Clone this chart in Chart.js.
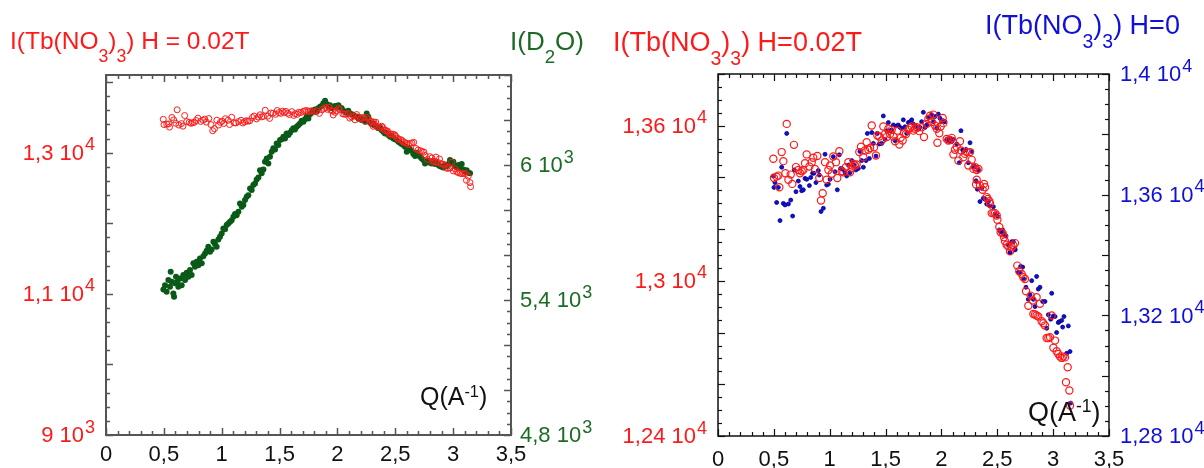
<!DOCTYPE html>
<html>
<head>
<meta charset="utf-8">
<title>SANS Tb(NO3)3</title>
<script src="https://cdn.jsdelivr.net/npm/chart.js@4.4.1/dist/chart.umd.min.js"></script>
<style>
  html, body { margin: 0; padding: 0; background: #fff; }
  #page { position: relative; width: 1204px; height: 468px; overflow: hidden; font-family: "Liberation Sans", Arial, sans-serif; }
  canvas { position: absolute; top: 0; }
  #leftChart { left: 0; }
  #rightChart { left: 600px; }
  .lbl { position: absolute; white-space: nowrap; line-height: 1; }
  .lbl sub { font-size: 0.72em; vertical-align: -0.72em; line-height: 0; }
  .lbl sup { font-size: 0.65em; vertical-align: 0.5em; line-height: 0; }
</style>
</head>
<body>
<div id="page">
  <canvas id="leftChart" width="600" height="468"></canvas>
  <canvas id="rightChart" width="604" height="468"></canvas>

  <div class="lbl" style="left:10px; top:29px; font-size:24.5px; color:#ff1a1a">I(Tb(NO<sub>3</sub>)<sub>3</sub>) H = 0.02T</div>
  <div class="lbl" style="left:510px; top:28px; font-size:26px; color:#1b6b25">I(D<sub>2</sub>O)</div>
  <div class="lbl" style="left:420px; top:384px; font-size:25px; color:#111">Q(A<sup>-1</sup>)</div>

  <div class="lbl" style="left:613px; top:29px; font-size:27px; color:#ff1a1a">I(Tb(NO<sub>3</sub>)<sub>3</sub>) H=0.02T</div>
  <div class="lbl" style="left:985px; top:12px; font-size:27px; color:#1010d6">I(Tb(NO<sub>3</sub>)<sub>3</sub>) H=0</div>
  <div class="lbl" style="left:1028px; top:399px; font-size:27px; color:#111">Q(A<sup>-1</sup>)</div>
</div>

<script>
// Tb(NO3)3, H = 0.02T (red open circles, same data in both panels)
const tbFieldQ = [
  0.495, 0.501, 0.525, 0.540, 0.549, 0.570, 0.585, 0.603, 0.615, 0.630, 0.651, 0.665, 0.680, 0.698, 0.719,
  0.734, 0.749, 0.764, 0.779, 0.794, 0.818, 0.839, 0.853, 0.868, 0.889, 0.907, 0.922, 0.937, 0.958, 0.973,
  0.988, 1.003, 1.018, 1.032, 1.056, 1.068, 1.086, 1.107, 1.122, 1.146, 1.167, 1.182, 1.197, 1.212, 1.226,
  1.241, 1.265, 1.280, 1.301, 1.316, 1.331, 1.346, 1.361, 1.376, 1.397, 1.414, 1.426, 1.444, 1.465, 1.480,
  1.495, 1.510, 1.525, 1.540, 1.555, 1.570, 1.585, 1.605, 1.623, 1.635, 1.653, 1.665, 1.683, 1.704, 1.719,
  1.734, 1.749, 1.764, 1.778, 1.802, 1.823, 1.844, 1.868, 1.883, 1.898, 1.913, 1.928, 1.943, 1.958, 1.964,
  1.981, 1.993, 2.011, 2.017, 2.047, 2.062, 2.077, 2.092, 2.107, 2.122, 2.137, 2.152, 2.166, 2.175, 2.196,
  2.211, 2.226, 2.241, 2.256, 2.271, 2.286, 2.301, 2.316, 2.331, 2.316, 2.310, 2.345, 2.369, 2.381, 2.390,
  2.405, 2.414, 2.429, 2.435, 2.450, 2.465, 2.480, 2.495, 2.501, 2.518, 2.530, 2.548, 2.560, 2.569, 2.584,
  2.599, 2.629, 2.644, 2.659, 2.614, 2.679, 2.697, 2.718, 2.733, 2.748, 2.757, 2.799, 2.778, 2.817, 2.852,
  2.882, 2.823, 2.838, 2.852, 2.867, 2.897, 2.912, 2.927, 2.987, 2.942, 2.957, 2.972, 3.017, 3.002, 3.031,
  3.046, 3.061, 3.076, 3.091, 3.106, 3.130, 3.115, 3.145, 3.151
];
const tbFieldI = [
  13472, 13398, 13403, 13407, 13362, 13498, 13463, 13416, 13607, 13391, 13411, 13375, 13526, 13440, 13429,
  13416, 13424, 13429, 13455, 13489, 13442, 13459, 13476, 13433, 13483, 13398, 13311, 13339, 13459, 13391,
  13429, 13446, 13414, 13481, 13459, 13398, 13501, 13424, 13420, 13440, 13459, 13420, 13437, 13452, 13446,
  13450, 13498, 13519, 13478, 13504, 13536, 13507, 13514, 13601, 13517, 13485, 13562, 13558, 13543, 13597,
  13568, 13556, 13588, 13568, 13584, 13558, 13540, 13581, 13527, 13553, 13543, 13571, 13568, 13584, 13592,
  13597, 13581, 13588, 13594, 13579, 13594, 13556, 13607, 13626, 13639, 13614, 13643, 13601, 13588, 13534,
  13571, 13597, 13630, 13610, 13549, 13543, 13545, 13553, 13489, 13507, 13519, 13465, 13540, 13504, 13478,
  13491, 13498, 13446, 13498, 13468, 13433, 13440, 13429, 13433, 13391, 13373, 13369, 13352, 13375, 13362,
  13324, 13317, 13308, 13298, 13262, 13262, 13262, 13253, 13236, 13208, 13188, 13184, 13169, 13153, 13140,
  13133, 13130, 13137, 13146, 13114, 13059, 13037, 13027, 13014, 13007, 12960, 12943, 12904, 12924, 12937,
  12911, 12872, 12870, 12866, 12862, 12844, 12836, 12827, 12866, 12779, 12779, 12782, 12769, 12741, 12728,
  12717, 12707, 12702, 12707, 12704, 12666, 12608, 12576, 12518
];

// D2O (dark green dots, left panel right axis)
const d2oQ = [
  0.496, 0.510, 0.524, 0.539, 0.553, 0.559, 0.568, 0.582, 0.588, 0.596, 0.605, 0.617, 0.625, 0.640, 0.654,
  0.668, 0.683, 0.697, 0.712, 0.726, 0.740, 0.755, 0.769, 0.784, 0.798, 0.812, 0.827, 0.841, 0.856, 0.870,
  0.884, 0.899, 0.913, 0.928, 0.942, 0.956, 0.971, 0.985, 1.000, 1.014, 1.029, 1.043, 1.057, 1.072, 1.086,
  1.101, 1.115, 1.129, 1.144, 1.158, 1.173, 1.187, 1.201, 1.216, 1.230, 1.245, 1.259, 1.273, 1.288, 1.302,
  1.317, 1.331, 1.345, 1.360, 1.374, 1.389, 1.403, 1.417, 1.432, 1.446, 1.461, 1.475, 1.489, 1.504, 1.518,
  1.533, 1.547, 1.561, 1.576, 1.590, 1.605, 1.619, 1.633, 1.648, 1.662, 1.677, 1.691, 1.706, 1.720, 1.734,
  1.749, 1.763, 1.778, 1.792, 1.806, 1.821, 1.835, 1.850, 1.864, 1.878, 1.893, 1.907, 1.922, 1.936, 1.950,
  1.965, 1.979, 1.994, 2.008, 2.022, 2.037, 2.051, 2.066, 2.080, 2.094, 2.109, 2.123, 2.138, 2.152, 2.166,
  2.181, 2.195, 2.210, 2.224, 2.239, 2.253, 2.267, 2.282, 2.296, 2.311, 2.325, 2.339, 2.354, 2.368, 2.383,
  2.397, 2.411, 2.426, 2.440, 2.455, 2.469, 2.483, 2.498, 2.512, 2.527, 2.541, 2.555, 2.570, 2.584, 2.599,
  2.613, 2.627, 2.642, 2.656, 2.671, 2.685, 2.699, 2.714, 2.728, 2.743, 2.757, 2.771, 2.786, 2.800, 2.815,
  2.829, 2.843, 2.858, 2.872, 2.887, 2.901, 2.915, 2.930, 2.944, 2.959, 2.973, 2.987, 3.002, 3.016, 3.031,
  3.045, 3.060, 3.074, 3.088, 3.103, 3.117, 3.132, 3.146
];
const d2oI = [
  5447, 5466, 5437, 5489, 5459, 5526, 5481, 5429, 5415, 5474, 5503, 5481, 5459, 5496, 5466,
  5511, 5489, 5521, 5503, 5533, 5511, 5563, 5548, 5570, 5555, 5585, 5563, 5595, 5607, 5619,
  5637, 5614, 5625, 5659, 5649, 5637, 5669, 5681, 5696, 5718, 5714, 5733, 5740, 5748, 5755,
  5770, 5782, 5777, 5792, 5829, 5814, 5822, 5844, 5859, 5866, 5896, 5889, 5911, 5918, 5936,
  5945, 5977, 5963, 5980, 6014, 6029, 6007, 6037, 6059, 6074, 6069, 6096, 6089, 6111, 6114,
  6126, 6118, 6140, 6133, 6143, 6155, 6163, 6158, 6170, 6177, 6185, 6197, 6192, 6203, 6214,
  6207, 6226, 6232, 6241, 6247, 6237, 6252, 6259, 6262, 6274, 6286, 6271, 6262, 6266, 6252,
  6256, 6262, 6259, 6266, 6256, 6252, 6241, 6237, 6232, 6241, 6229, 6226, 6222, 6217, 6214,
  6207, 6212, 6200, 6203, 6192, 6229, 6214, 6188, 6182, 6185, 6177, 6170, 6163, 6167, 6155,
  6148, 6140, 6143, 6133, 6126, 6129, 6118, 6114, 6111, 6103, 6099, 6093, 6089, 6081, 6059,
  6078, 6069, 6063, 6049, 6040, 6054, 6044, 6037, 6029, 6022, 6007, 6014, 6019, 6010, 6007,
  6019, 6004, 6010, 6000, 5995, 5992, 5989, 6000, 5995, 6004, 6022, 6007, 6014, 5995, 5989,
  6000, 5985, 6004, 5980, 5970, 5977, 5966, 5963
];

// Tb(NO3)3, H = 0 (blue dots, right panel right axis)
const tbZeroQ = [
  0.495, 0.510, 0.501, 0.525, 0.540, 0.555, 0.570, 0.585, 0.600, 0.615, 0.630, 0.651, 0.668, 0.683, 0.698,
  0.719, 0.734, 0.749, 0.764, 0.779, 0.794, 0.818, 0.830, 0.847, 0.859, 0.877, 0.898, 0.907, 0.922, 0.943,
  0.958, 0.973, 0.988, 1.003, 1.032, 1.047, 1.068, 1.086, 1.098, 1.116, 1.137, 1.152, 1.167, 1.182, 1.197,
  1.217, 1.235, 1.256, 1.271, 1.286, 1.301, 1.325, 1.337, 1.355, 1.376, 1.391, 1.414, 1.426, 1.444, 1.465,
  1.480, 1.495, 1.510, 1.525, 1.540, 1.555, 1.570, 1.585, 1.599, 1.614, 1.629, 1.644, 1.659, 1.674, 1.689,
  1.704, 1.719, 1.734, 1.749, 1.764, 1.778, 1.793, 1.808, 1.823, 1.838, 1.853, 1.868, 1.883, 1.898, 1.913,
  1.928, 1.943, 1.958, 1.972, 1.987, 2.002, 2.017, 2.032, 2.047, 2.062, 2.077, 2.092, 2.107, 2.137, 2.160,
  2.175, 2.190, 2.202, 2.220, 2.241, 2.256, 2.271, 2.286, 2.301, 2.331, 2.310, 2.322, 2.345, 2.360, 2.375,
  2.390, 2.405, 2.420, 2.435, 2.465, 2.480, 2.501, 2.518, 2.530, 2.548, 2.560, 2.578, 2.599, 2.614, 2.629,
  2.644, 2.659, 2.614, 2.659, 2.709, 2.727, 2.688, 2.703, 2.739, 2.757, 2.778, 2.793, 2.808, 2.823, 2.838,
  2.852, 2.867, 2.882, 2.906, 2.927, 2.942, 2.957, 2.978, 2.987, 3.002, 3.017, 3.031, 3.046, 3.055, 3.076,
  3.085, 3.097, 3.121, 3.136, 3.151, 3.157
];
const tbZeroI = [
  13662, 13640, 13624, 13574, 13624, 13514, 13691, 13571, 13566, 13803, 13569, 13582, 13529, 13682, 13610,
  13645, 13627, 13613, 13616, 13654, 13651, 13630, 13657, 13671, 13671, 13640, 13680, 13665, 13544, 13555,
  13734, 13632, 13635, 13651, 13726, 13676, 13616, 13732, 13687, 13684, 13673, 13662, 13698, 13673, 13713,
  13698, 13682, 13687, 13743, 13713, 13691, 13713, 13803, 13720, 13806, 13770, 13728, 13803, 13768, 13770,
  13861, 13783, 13812, 13839, 13812, 13814, 13831, 13779, 13828, 13831, 13823, 13820, 13848, 13825, 13803,
  13839, 13842, 13848, 13834, 13828, 13825, 13817, 13823, 13842, 13873, 13823, 13831, 13856, 13859, 13864,
  13842, 13859, 13820, 13867, 13853, 13842, 13845, 13842, 13783, 13779, 13787, 13776, 13783, 13768, 13706,
  13812, 13748, 13746, 13750, 13706, 13772, 13743, 13693, 13693, 13682, 13646, 13618, 13577, 13621, 13588,
  13585, 13569, 13577, 13562, 13560, 13536, 13529, 13483, 13477, 13483, 13470, 13463, 13433, 13408, 13444,
  13444, 13419, 13408, 13417, 13362, 13360, 13342, 13340, 13320, 13293, 13253, 13268, 13315, 13253, 13229,
  13329, 13287, 13293, 13246, 13246, 13157, 13202, 13187, 13273, 13198, 13196, 13143, 13176, 13179, 13183,
  13161, 13196, 13074, 13165, 13080, 12909
];

// axis tick labels
const qTickValues = [0, 0.5, 1, 1.5, 2, 2.5, 3, 3.5];
const qTickLabels = ['0', '0,5', '1', '1,5', '2', '2,5', '3', '3,5'];
const tbLeftTickValues = [9000, 11000, 13000];
const tbLeftTickLabels = ['9 10^3', '1,1 10^4', '1,3 10^4'];
const d2oTickValues = [4800, 5400, 6000];
const d2oTickLabels = ['4,8 10^3', '5,4 10^3', '6 10^3'];
const tbRightTickValues = [12400, 13000, 13600];
const tbRightTickLabels = ['1,24 10^4', '1,3 10^4', '1,36 10^4'];
const tbZeroTickValues = [12800, 13200, 13600, 14000];
const tbZeroTickLabels = ['1,28 10^4', '1,32 10^4', '1,36 10^4', '1,4 10^4'];

const RED = '#ff1a1a';
const GREEN = '#1b6b25';
const BLUE = '#1010d6';
const FONT = '"Liberation Sans", Arial, sans-serif';

function toPoints(xs, ys) {
  return xs.map((x, i) => ({ x: x, y: ys[i] }));
}

// label like "1,3 10^4" -> mantissa text with raised exponent
function drawLabel(ctx, text, x, y, align, size, color) {
  const parts = text.split('^');
  const supSize = Math.round(size * 0.8);
  ctx.font = size + 'px ' + FONT;
  const wMain = ctx.measureText(parts[0]).width;
  ctx.font = supSize + 'px ' + FONT;
  const wExp = parts[1] ? ctx.measureText(parts[1]).width + 1 : 0;
  let x0 = x;
  if (align === 'right') x0 = x - wMain - wExp;
  if (align === 'center') x0 = x - (wMain + wExp) / 2;
  ctx.fillStyle = color;
  ctx.textAlign = 'left';
  ctx.textBaseline = 'alphabetic';
  ctx.font = size + 'px ' + FONT;
  ctx.fillText(parts[0], x0, y);
  if (parts[1]) {
    ctx.font = supSize + 'px ' + FONT;
    ctx.fillText(parts[1], x0 + wMain + 1, y - size * 0.45);
  }
}

function drawAxis(chart, ax, cfg) {
  const ctx = chart.ctx;
  const a = chart.chartArea;
  const scale = chart.scales[ax.id];
  ctx.strokeStyle = cfg.frameColor;
  ctx.lineWidth = cfg.tickWidth;
  const kMin = Math.ceil(scale.min / ax.minor - 1e-6);
  const kMax = Math.floor(scale.max / ax.minor + 1e-6);
  for (let k = kMin; k <= kMax; k++) {
    const v = k * ax.minor;
    const r = v / ax.major;
    const len = Math.abs(r - Math.round(r)) < 1e-6 ? cfg.majorLen : cfg.minorLen;
    const p = Math.round(scale.getPixelForValue(v)) + 0.5;
    ctx.beginPath();
    if (ax.side === 'bottom') {
      ctx.moveTo(p, a.bottom); ctx.lineTo(p, a.bottom - len);
      ctx.moveTo(p, a.top); ctx.lineTo(p, a.top + len);
    } else if (ax.side === 'left') {
      ctx.moveTo(a.left, p); ctx.lineTo(a.left + len, p);
    } else {
      ctx.moveTo(a.right, p); ctx.lineTo(a.right - len, p);
    }
    ctx.stroke();
  }
  ax.values.forEach((v, i) => {
    const p = scale.getPixelForValue(v);
    const s = cfg.fontSize;
    if (ax.side === 'bottom') {
      drawLabel(ctx, ax.labels[i], p, a.bottom + ax.offset, 'center', s, ax.color);
    } else if (ax.side === 'left') {
      drawLabel(ctx, ax.labels[i], a.left - ax.offset, p + s * 0.34, 'right', s, ax.color);
    } else {
      drawLabel(ctx, ax.labels[i], a.right + ax.offset, p + s * 0.34, 'left', s, ax.color);
    }
  });
}

function framePlugin(cfg) {
  return {
    id: 'frame',
    afterDatasetsDraw(chart) {
      const ctx = chart.ctx;
      const a = chart.chartArea;
      ctx.save();
      ctx.strokeStyle = cfg.frameColor;
      ctx.lineWidth = cfg.frameWidth;
      ctx.strokeRect(a.left, a.top, a.right - a.left, a.bottom - a.top);
      cfg.axes.forEach(ax => drawAxis(chart, ax, cfg));
      ctx.restore();
    }
  };
}

function baseOptions(padding, yRange, y2Range) {
  return {
    responsive: false,
    animation: false,
    devicePixelRatio: 1,
    events: [],
    layout: { padding: padding },
    plugins: { legend: { display: false }, tooltip: { enabled: false } },
    scales: {
      x: { type: 'linear', min: 0, max: 3.5, display: false },
      y: { type: 'linear', min: yRange[0], max: yRange[1], display: false },
      y2: { type: 'linear', position: 'right', min: y2Range[0], max: y2Range[1], display: false }
    }
  };
}

// left panel: Tb(NO3)3 H=0.02T vs D2O
new Chart(document.getElementById('leftChart'), {
  type: 'scatter',
  data: {
    datasets: [
      {
        data: toPoints(tbFieldQ, tbFieldI),
        yAxisID: 'y',
        pointRadius: 3,
        pointBorderWidth: 1,
        borderColor: RED,
        backgroundColor: 'rgba(255,255,255,0)'
      },
      {
        data: toPoints(d2oQ, d2oI),
        yAxisID: 'y2',
        pointRadius: 3,
        pointBorderWidth: 0,
        borderColor: '#0a5a17',
        backgroundColor: '#0a5a17'
      }
    ]
  },
  options: baseOptions({ left: 106, right: 89, top: 75, bottom: 33 }, [9000, 14100], [4800, 6400]),
  plugins: [framePlugin({
    frameColor: '#555', frameWidth: 2, tickWidth: 1.5, majorLen: 7, minorLen: 4, fontSize: 22,
    axes: [
      { id: 'x', side: 'bottom', minor: 0.1, major: 0.5, values: qTickValues, labels: qTickLabels, color: '#111', offset: 26 },
      { id: 'y', side: 'left', minor: 200, major: 1000, values: tbLeftTickValues, labels: tbLeftTickLabels, color: RED, offset: 11 },
      { id: 'y2', side: 'right', minor: 50, major: 200, values: d2oTickValues, labels: d2oTickLabels, color: GREEN, offset: 9 }
    ]
  })]
});

// right panel: Tb(NO3)3 H=0.02T vs H=0
new Chart(document.getElementById('rightChart'), {
  type: 'scatter',
  data: {
    datasets: [
      {
        data: toPoints(tbFieldQ, tbFieldI),
        yAxisID: 'y',
        pointRadius: 3.6,
        pointBorderWidth: 1.2,
        borderColor: RED,
        backgroundColor: 'rgba(255,255,255,0)'
      },
      {
        data: toPoints(tbZeroQ, tbZeroI),
        yAxisID: 'y2',
        pointRadius: 2,
        pointBorderWidth: 0.8,
        borderColor: '#00008a',
        backgroundColor: BLUE
      }
    ]
  },
  options: baseOptions({ left: 118, right: 95, top: 74, bottom: 32 }, [12400, 13800], [12800, 14000]),
  plugins: [framePlugin({
    frameColor: '#111', frameWidth: 1.5, tickWidth: 1.2, majorLen: 7, minorLen: 4, fontSize: 22,
    axes: [
      { id: 'x', side: 'bottom', minor: 0.1, major: 0.5, values: qTickValues, labels: qTickLabels, color: '#111', offset: 30 },
      { id: 'y', side: 'left', minor: 50, major: 200, values: tbRightTickValues, labels: tbRightTickLabels, color: RED, offset: 11 },
      { id: 'y2', side: 'right', minor: 50, major: 200, values: tbZeroTickValues, labels: tbZeroTickLabels, color: BLUE, offset: 11 }
    ]
  })]
});
</script>
</body>
</html>
